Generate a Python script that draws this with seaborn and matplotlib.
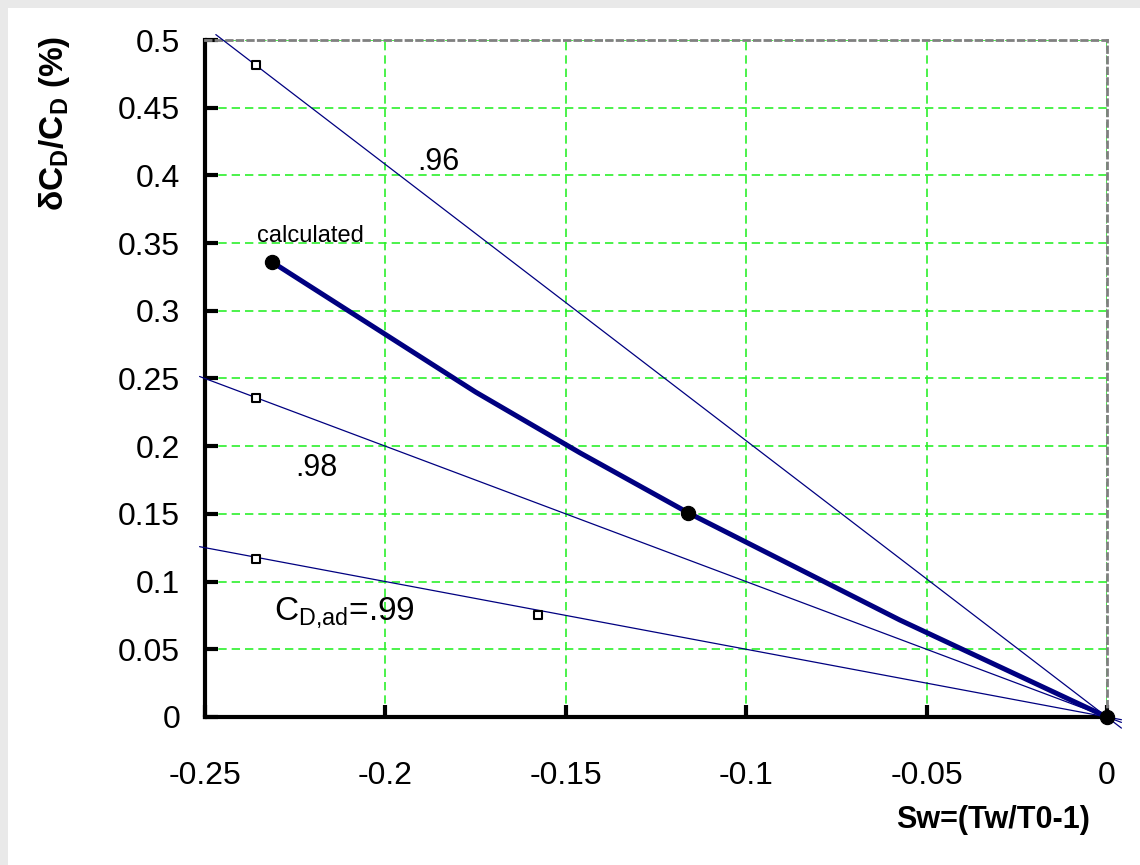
import matplotlib
matplotlib.use("Agg")
import pandas as pd
import matplotlib.pyplot as plt
import seaborn as sns
from matplotlib.ticker import FuncFormatter, MultipleLocator
from matplotlib.patches import Rectangle

# calculated drag change vs wall temperature parameter
calc_sw = [-0.2314, -0.175, -0.146, -0.116, -0.0574, 0.0]
calc_dcd = [0.336, 0.240, 0.195, 0.1507, 0.0716, 0.0]
calc_pts_sw = [-0.2314, -0.116, 0.0]
calc_pts_dcd = [0.336, 0.1507, 0.0]

# reference lines for CD,ad = .96 / .98 / .99 (end points)
ref_names = [".96", ".98", ".99"]
ref_x0 = [-0.247, -0.2515, -0.2515]
ref_y0 = [0.504, 0.2515, 0.1258]
ref_x1 = [0.004, 0.004, 0.004]
ref_y1 = [-0.0082, -0.004, -0.002]

# open square markers on the reference lines
sq_sw = [-0.2359, -0.2359, -0.2359, -0.1577]
sq_dcd = [0.4815, 0.2356, 0.117, 0.0753]

sns.set_style("white")
plt.rcParams["font.family"] = ["Liberation Sans", "DejaVu Sans"]
plt.rcParams["mathtext.fontset"] = "custom"
plt.rcParams["mathtext.rm"] = "Liberation Sans"
plt.rcParams["mathtext.bf"] = "Liberation Sans:bold"
plt.rcParams["mathtext.it"] = "Liberation Sans:italic"
plt.rcParams["axes.unicode_minus"] = False
for k in ["text.color", "axes.labelcolor", "xtick.color", "ytick.color"]:
    plt.rcParams[k] = "black"

fig = plt.figure(figsize=(11.4, 8.65), dpi=100, facecolor="#e9e9e9")
fig.patches.append(Rectangle((8 / 1140, 0), 1, 1 - 8 / 865, transform=fig.transFigure,
                             facecolor="white", edgecolor="none", zorder=-10))
ax = fig.add_axes([205 / 1140, 1 - 717 / 865, 902 / 1140, 677 / 865])
ax.set_zorder(1)

# thin reference lines
ref_df = pd.DataFrame({
    "sw": ref_x0 + ref_x1,
    "dcd": ref_y0 + ref_y1,
    "line": ref_names + ref_names,
})
sns.lineplot(data=ref_df, x="sw", y="dcd", hue="line", palette=["#000080"] * 3,
             linewidth=0.9, legend=False, clip_on=False, ax=ax, zorder=3)

# calculated curve
sns.lineplot(x=calc_sw, y=calc_dcd, color="#000080", linewidth=3.6, sort=False,
             ax=ax, zorder=4)
sns.scatterplot(x=calc_pts_sw, y=calc_pts_dcd, color="black", s=105, edgecolor="black",
                clip_on=False, ax=ax, zorder=5)
sns.scatterplot(x=sq_sw, y=sq_dcd, marker="s", s=34, facecolor="white", edgecolor="black",
                linewidth=1.5, ax=ax, zorder=5)

ax.set_xlim(-0.25, 0)
ax.set_ylim(0, 0.5)
ax.xaxis.set_major_locator(MultipleLocator(0.05))
ax.yaxis.set_major_locator(MultipleLocator(0.05))
fmt = FuncFormatter(lambda v, p: "%g" % round(v, 3))
ax.xaxis.set_major_formatter(fmt)
ax.yaxis.set_major_formatter(fmt)

ax.grid(True, color="#2cf02c", linestyle=(0, (5, 3)), linewidth=1.2)
ax.set_axisbelow(True)

for s in ["left", "bottom"]:
    ax.spines[s].set_color("black")
    ax.spines[s].set_linewidth(3)
for s in ["top", "right"]:
    ax.spines[s].set_color("#808080")
    ax.spines[s].set_linewidth(2)
    ax.spines[s].set_linestyle((0, (2, 1.8)))

ax.tick_params(axis="both", direction="in", length=9, width=3, color="black",
               labelsize=23, left=True, bottom=True, top=False, right=False)
ax.tick_params(axis="x", pad=32)
ax.tick_params(axis="y", pad=18)

# annotations
ax.text(-0.1912, 0.41, ".96", fontsize=22, va="center", ha="left")
ax.text(-0.225, 0.184, ".98", fontsize=22, va="center", ha="left")
ax.text(-0.2356, 0.355, "calculated", fontsize=17, va="center", ha="left")
ax.text(-0.231, 0.0775, r"C$_\mathrm{D{,}ad}$=.99", fontsize=24, va="center", ha="left")

ax.set_xlabel("Sw=(Tw/T0-1)", fontsize=22, fontweight="bold", ha="right")
ax.xaxis.set_label_coords(0.981, -0.13)
ax.set_ylabel(r"δC$_\mathbf{D}$/C$_\mathbf{D}$ (%)", fontsize=24, fontweight="bold")
ax.yaxis.set_label_coords(-0.148, 0.877)

fig.savefig("out.png", dpi=100, facecolor=fig.get_facecolor())
